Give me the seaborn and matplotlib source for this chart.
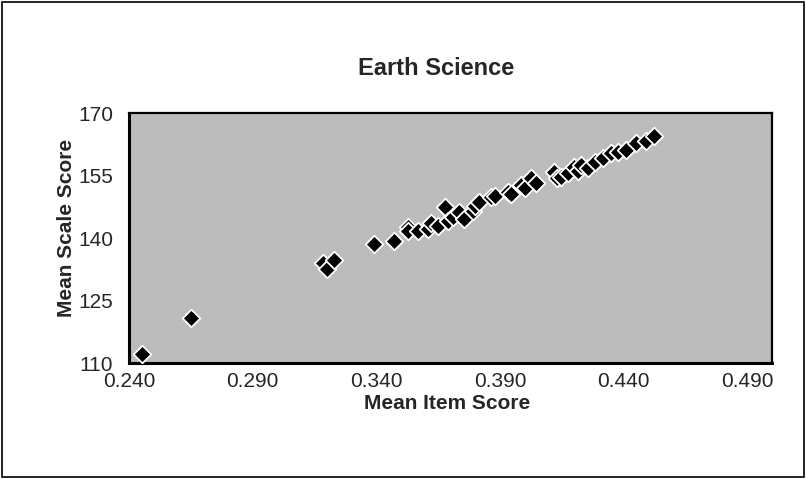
import pandas as pd
import numpy as np
import seaborn as sns
import matplotlib.pyplot as plt
from matplotlib.patches import Rectangle

# values
item_score = [0.2453, 0.2651, 0.3185, 0.3201, 0.3229, 0.3390, 0.3473, 0.3527,
              0.3530, 0.3568, 0.3608, 0.3620, 0.3649, 0.3676, 0.3690, 0.3709,
              0.3736, 0.3756, 0.3790, 0.3800, 0.3817, 0.3864, 0.3878, 0.3932,
              0.3945, 0.3986, 0.4000, 0.4026, 0.4046, 0.4120, 0.4130, 0.4148,
              0.4175, 0.4201, 0.4215, 0.4228, 0.4255, 0.4282, 0.4316, 0.4350,
              0.4377, 0.4411, 0.4451, 0.4490, 0.4524]
scale_score = [112.2, 120.8, 134.0, 132.6, 134.7, 138.6, 139.3, 142.6,
               141.6, 141.8, 142.2, 143.5, 143.0, 147.4, 144.0, 145.0,
               146.2, 144.6, 146.6, 147.8, 148.6, 149.8, 150.2, 151.0,
               150.5, 152.7, 152.0, 154.3, 153.1, 155.9, 154.3, 154.7,
               155.5, 157.1, 156.0, 157.5, 156.7, 158.3, 159.1, 160.3,
               160.7, 161.1, 162.7, 163.3, 164.4]
x_ticks = [0.240, 0.290, 0.340, 0.390, 0.440, 0.490]
y_ticks = [110, 125, 140, 155, 170]

df = pd.DataFrame({'item': item_score, 'scale': scale_score})

sns.set_style("white")
plt.rcParams['font.family'] = ['Liberation Sans', 'DejaVu Sans']

fig = plt.figure(figsize=(8.06, 4.79), dpi=100)
ax = fig.add_axes([0.160, 0.242, 0.798, 0.522])
ax.set_facecolor('#bcbcbc')

sns.scatterplot(x='item', y='scale', data=df, marker='D', color='black',
                edgecolor='white', linewidth=1.3, s=80, ax=ax, zorder=3)

ax.set_xlim(0.24, 0.50)
ax.set_ylim(110, 170)
ax.set_xticks(x_ticks)
ax.set_xticklabels(['%.3f' % t for t in x_ticks])
ax.set_yticks(y_ticks)
ax.tick_params(axis='both', direction='inout', length=9, width=1.2,
               color='black', labelsize=15)
ax.tick_params(axis='x', pad=2)
ax.tick_params(axis='y', pad=7)
for sp in ax.spines.values():
    sp.set_color('black')
    sp.set_linewidth(1.6)
ax.spines['bottom'].set_linewidth(2.2)
ax.spines['left'].set_linewidth(2.2)

ax.set_xlabel('')
ax.set_ylabel('')
fig.text(0.555, 0.157, 'Mean Item Score', ha='center', va='center',
         fontsize=15, fontweight='bold')
fig.text(0.082, 0.524, 'Mean Scale Score', ha='center', va='center',
         rotation=90, fontsize=15, fontweight='bold')
fig.text(0.541, 0.858, 'Earth Science', ha='center', va='center',
         fontsize=17, fontweight='bold')

# outer chart border
fig.patches.append(Rectangle((0.002, 0.004), 0.995, 0.992, transform=fig.transFigure,
                             fill=False, edgecolor='black', linewidth=1.2))

plt.savefig('out.png', dpi=100)
